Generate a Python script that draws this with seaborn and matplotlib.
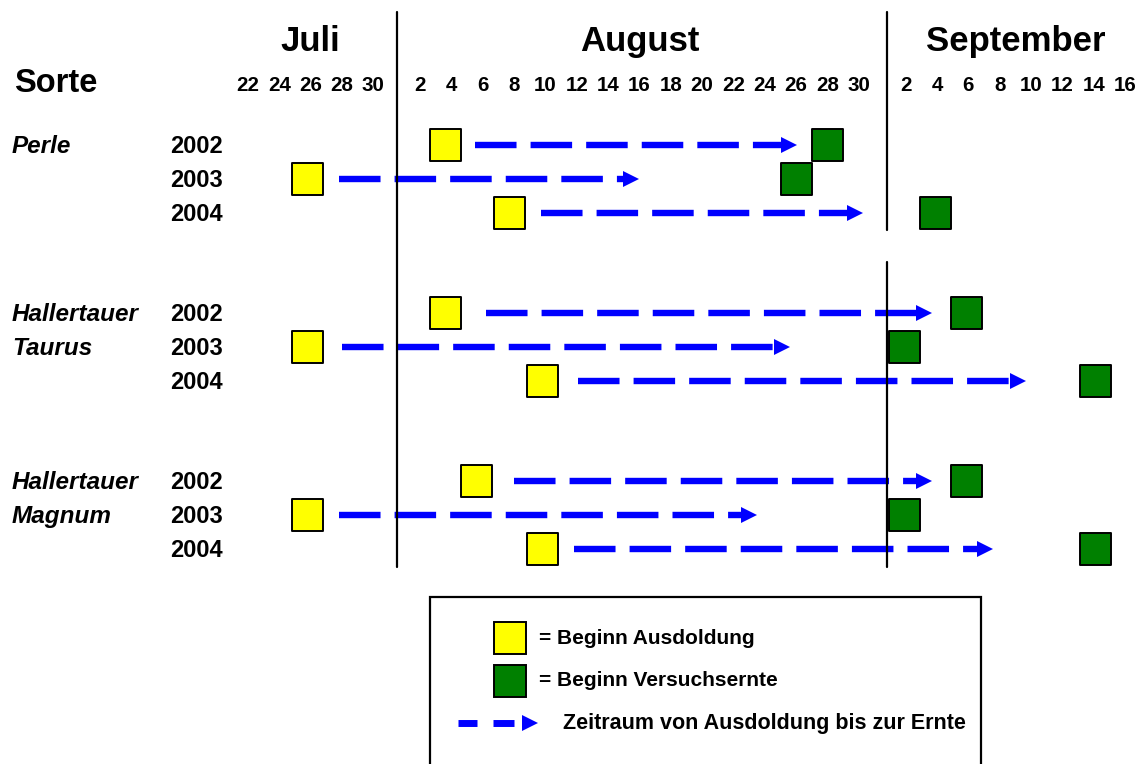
import matplotlib
matplotlib.use("Agg")
import matplotlib.pyplot as plt
import seaborn as sns
import pandas as pd
from matplotlib.patches import Rectangle

# ---------------- data ----------------
# day index: 1 = 1 July, 32 = 1 August, 63 = 1 September
sorten = ["Perle", "Hallertauer\nTaurus", "Hallertauer\nMagnum"]
jahre = ["2002", "2003", "2004"]
ausdoldung = [34.6, 25.8, 38.7, 34.6, 25.8, 40.8, 36.6, 25.8, 40.8]   # Beginn Ausdoldung
ernte = [59.0, 57.0, 65.9, 67.9, 63.9, 76.1, 67.9, 63.9, 76.1]        # Beginn Versuchsernte
pfeil_start = [36.5, 27.8, 40.7, 37.2, 28.0, 43.1, 39.0, 27.8, 42.8]
pfeil_ende = [57.1, 47.0, 61.3, 65.7, 56.6, 71.7, 65.7, 54.5, 69.6]

monate = ["Juli", "August", "September"]
tage_juli = [22, 24, 26, 28, 30]
tage_aug = [2, 4, 6, 8, 10, 12, 14, 16, 18, 20, 22, 24, 26, 28, 30]
tage_sep = [2, 4, 6, 8, 10, 12, 14, 16]
monat_offset = [0, 31, 62]

legende_texte = ["= Beginn Ausdoldung", "= Beginn Versuchsernte",
                 "Zeitraum von Ausdoldung bis zur Ernte"]

# ---------------- layout ----------------
W, H = 1138, 764
sns.set_theme(style="white")
plt.rcParams["font.family"] = ["Liberation Sans", "DejaVu Sans"]
plt.rcParams["text.color"] = "black"

fig = plt.figure(figsize=(W / 100, H / 100), dpi=100)
ax = fig.add_axes([0, 0, 1, 1])
ax.set_xlim(6.16, 78.83)
ax.set_ylim(18.206, -4.265)
ax.axis("off")

def ya(py):
    return (py - 145) / 34.0

group_gap = 4.94
rows = []
sorte_col, jahr_col = [], []
for g, s in enumerate(sorten):
    for j, y in enumerate(jahre):
        rows.append(g * group_gap + j)
        sorte_col.append(s)
        jahr_col.append(y)

df = pd.DataFrame({"sorte": sorte_col, "jahr": jahr_col, "row": rows,
                   "ausdoldung": ausdoldung, "ernte": ernte,
                   "start": pfeil_start, "ende": pfeil_ende})

blue = "#0000FF"
yellow = "#FFFF00"
green = "#008000"

# dashed arrows
head_half = 0.53
for _, r in df.iterrows():
    ax.plot([r["start"], r["ende"] - head_half], [r["row"], r["row"]],
            color=blue, lw=4.6, linestyle=(0, (6.5, 2.2)),
            solid_capstyle="butt", dash_capstyle="butt", zorder=2)
    ax.plot([r["ende"] - head_half], [r["row"]], marker=">", ms=12,
            color=blue, mec=blue, mew=0, zorder=2)

# month boundary lines
ax.plot([31.5, 31.5], [ya(12), ya(567)], color="black", lw=1.6, zorder=3)
ax.plot([62.8, 62.8], [ya(12), ya(230)], color="black", lw=1.6, zorder=3)
ax.plot([62.8, 62.8], [ya(262), ya(567)], color="black", lw=1.6, zorder=3)

# squares
long = pd.concat([
    pd.DataFrame({"tag": df["ausdoldung"], "row": df["row"], "art": "Ausdoldung"}),
    pd.DataFrame({"tag": df["ernte"], "row": df["row"], "art": "Ernte"}),
])
sns.scatterplot(data=long, x="tag", y="row", hue="art",
                palette={"Ausdoldung": yellow, "Ernte": green},
                marker="s", s=506, edgecolor="black", linewidth=1.4,
                legend=False, ax=ax, zorder=4)

# month titles and day labels
month_days = [tage_juli, tage_aug, tage_sep]
for m, days, off in zip(monate, month_days, monat_offset):
    center = off + (days[0] + days[-1]) / 2
    ax.text(center, ya(51), m, ha="center", va="baseline",
            fontsize=25, fontweight="bold", color="black")
    for d in days:
        ax.text(off + d, ya(91), str(d), ha="center", va="baseline",
                fontsize=14.8, fontweight="bold", color="black")

ax.text(14 / W, 1 - 92 / H, "Sorte", transform=ax.transAxes, ha="left",
        va="baseline", fontsize=23.5, fontweight="bold", color="black")

# row labels
for g, s in enumerate(sorten):
    for k, part in enumerate(s.split("\n")):
        ax.text(12 / W, g * group_gap + k + 0.235, part,
                transform=ax.get_yaxis_transform(), ha="left", va="baseline",
                fontsize=17.5, fontweight="bold", style="italic", color="black")
for _, r in df.iterrows():
    ax.text(223 / W, r["row"] + 0.235, r["jahr"],
            transform=ax.get_yaxis_transform(), ha="right", va="baseline",
            fontsize=17, fontweight="bold", color="black")

# legend box
def fx(px):
    return px / W

def fy(py):
    return 1 - py / H

ax.add_patch(Rectangle((fx(430), fy(775)), fx(981) - fx(430), fy(597) - fy(775),
                       transform=ax.transAxes, fill=False, ec="black", lw=1.6,
                       clip_on=False, zorder=5))
ax.plot([fx(510)], [fy(638)], transform=ax.transAxes, marker="s", ms=22.5,
        mfc=yellow, mec="black", mew=1.4, zorder=6)
ax.plot([fx(510)], [fy(681)], transform=ax.transAxes, marker="s", ms=22.5,
        mfc=green, mec="black", mew=1.4, zorder=6)
ax.plot([fx(458), fx(477)], [fy(723), fy(723)], transform=ax.transAxes,
        color=blue, lw=5, solid_capstyle="butt", zorder=6)
ax.plot([fx(493), fx(514)], [fy(723), fy(723)], transform=ax.transAxes,
        color=blue, lw=5, solid_capstyle="butt", zorder=6)
ax.plot([fx(529.5)], [fy(723)], transform=ax.transAxes, marker=">", ms=11,
        color=blue, mew=0, zorder=6)
ax.text(fx(539), fy(638), legende_texte[0], transform=ax.transAxes,
        ha="left", va="center", fontsize=15, fontweight="bold", color="black")
ax.text(fx(539), fy(681), legende_texte[1], transform=ax.transAxes,
        ha="left", va="center", fontsize=15, fontweight="bold", color="black")
ax.text(fx(563), fy(723), legende_texte[2], transform=ax.transAxes,
        ha="left", va="center", fontsize=15.5, fontweight="bold", color="black")

fig.savefig("out.png", dpi=100, facecolor="white")
